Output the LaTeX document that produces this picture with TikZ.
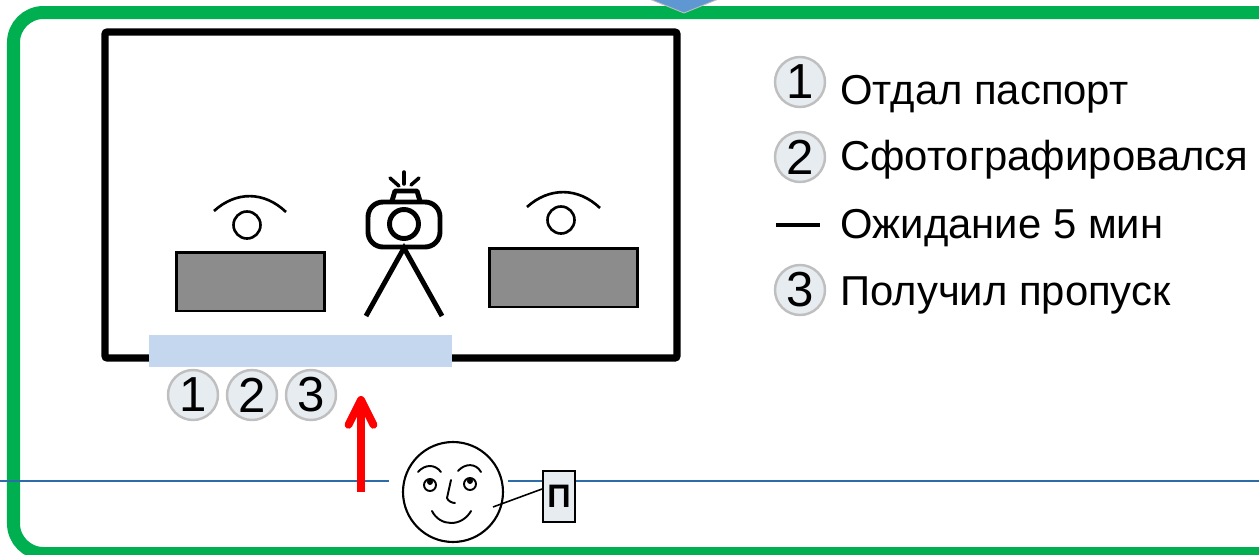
\documentclass[tikz,border=0pt]{standalone}
\usepackage{fontspec}
\setmainfont{Liberation Sans}
\usetikzlibrary{arrows.meta}
\definecolor{framegreen}{HTML}{00B050}
\definecolor{badgefill}{HTML}{E7ECF1}
\definecolor{badgeline}{HTML}{BFBFBF}
\definecolor{deskgray}{HTML}{8C8C8C}
\definecolor{windowblue}{HTML}{C5D7EE}
\definecolor{roadblue}{HTML}{2E6CA8}
\definecolor{pointerblue}{HTML}{5F97D3}
\begin{document}
\begin{tikzpicture}[x=0.02cm,y=-0.02cm,
        numbadge/.style={circle,draw=badgeline,fill=badgefill,line width=1.4pt,minimum size=1.0cm,inner sep=0pt,font=\fontsize{28}{28}\selectfont},
        legendtext/.style={anchor=base west,inner sep=0pt,font=\fontsize{23.8}{23.8}\selectfont},
        desk/.style={draw=black,fill=deskgray,line width=1.7pt},
        eyelid/.style={line width=1.5pt},
        campart/.style={line width=2.8pt,line cap=round},
        facepart/.style={line width=1.1pt,line cap=round}]
        \useasboundingbox (0,0) rectangle (1259,555);
        \clip (0,0) rectangle (1259,555);
        % outer frame
        \draw[framegreen,line width=7.4pt,rounded corners=0.6cm] (13.5,12.5) rectangle (1300,553.5);
        \draw[draw=badgeline,fill=pointerblue,line width=0.5pt] (647,-2) -- (721,-2) -- (684,13) -- cycle;
        % room
        \draw[line width=4pt,rounded corners=0.04cm] (105,32) rectangle (677,358);
        \node[draw=none,fill=windowblue,minimum width=6.06cm,minimum height=0.64cm,inner sep=0pt] (window) at (300.5,351) {};
        % desks
        \node[desk,minimum width=2.98cm,minimum height=1.18cm,inner sep=0pt] (deskleft) at (250.5,281.5) {};
        \node[desk,minimum width=2.98cm,minimum height=1.18cm,inner sep=0pt] (deskright) at (563.5,277.5) {};
        \draw[eyelid] (214,211) .. controls (236,191) and (264,191) .. (286,212);
        \node[circle,draw,line width=1.5pt,minimum size=0.54cm,inner sep=0pt] (eyeleft) at (247,225) {};
        \draw[eyelid] (527,207) .. controls (549,187) and (578,187) .. (600,208);
        \node[circle,draw,line width=1.5pt,minimum size=0.54cm,inner sep=0pt] (eyeright) at (561,220) {};
        % camera
        \draw[campart,rounded corners=0.3cm] (368,202) rectangle (440,247);
        \draw[campart,line join=round] (392,201) -- (395,191) -- (417,191) -- (420,201);
        \node[circle,draw,line width=2.8pt,minimum size=0.58cm,inner sep=0pt] (lens) at (404,224) {};
        \draw[line width=2pt,line cap=round] (404,172) -- (404,184);
        \draw[line width=2pt,line cap=round] (390,178) -- (399,186);
        \draw[line width=2pt,line cap=round] (419,178) -- (411,185);
        \coordinate (tripod) at (404,248);
        \draw[line width=2.8pt] (366,316) -- (tripod) -- (442,316);
        % numbers at the window
        \node[numbadge] (doneone) at (193,395) {1};
        \node[numbadge] (donetwo) at (252,395) {2};
        \node[numbadge] (donethree) at (311,395) {3};
        % road
        \coordinate (roadwest) at (0,481);
        \coordinate (roadeast) at (1259,481);
        \coordinate (roadgapa) at (389,481);
        \coordinate (roadgapb) at (508,481);
        \draw[roadblue,line width=0.8pt] (roadwest) -- (roadgapa);
        \draw[roadblue,line width=0.8pt] (roadgapb) -- (roadeast);
        \coordinate (walkstart) at (361,492);
        \coordinate (walkend) at (361,396);
        \draw[red,line width=4.4pt,-{Straight Barb[round,length=0.5cm,width=0.5cm]}] (walkstart) -- (walkend);
        % person
        \node[circle,draw,line width=1.2pt,minimum size=2cm,inner sep=0pt] (face) at (453,492) {};
        \node[circle,facepart,draw,minimum size=0.24cm,inner sep=0pt] (pupilleft) at (430,485) {};
        \node[circle,facepart,draw,minimum size=0.24cm,inner sep=0pt] (pupilright) at (470,484) {};
        \fill (430,482) circle[radius=3];
        \fill (470,481) circle[radius=3];
        \draw[facepart] (418,472) .. controls (425,464) and (435,464) .. (441,472);
        \draw[facepart] (458,471) .. controls (465,463) and (476,463) .. (481,472);
        \draw[facepart] (451,480) -- (447,498) .. controls (448,501) and (452,503) .. (455,503);
        \draw[facepart] (432,511) .. controls (440,527) and (462,527) .. (471,511);
        \node[draw,fill=badgefill,line width=1.1pt,minimum width=0.64cm,minimum height=1.02cm,inner sep=0pt,font=\bfseries\fontsize{18.5}{18.5}\selectfont] (pass) at (559,496.5) {П};
        \coordinate (facehand) at (493,507);
        \draw[line width=0.9pt] (facehand) -- (pass.west |- 0,489);
        % legend
        \node[numbadge] (stepone) at (800,82) {1};
        \node[numbadge] (steptwo) at (800,157) {2};
        \node[numbadge] (stepthree) at (800,290) {3};
        \coordinate (waitstart) at (776,225);
        \coordinate (waitend) at (820,225);
        \draw[line width=2.2pt] (waitstart) -- (waitend);
        \node[legendtext] (giventext) at (840,104) {Отдал паспорт};
        \node[legendtext] (phototext) at (840,170) {Сфотографировался};
        \node[legendtext] (waittext) at (840,238) {Ожидание 5 мин};
        \node[legendtext] (gottext) at (840,305) {Получил пропуск};
    \end{tikzpicture}
\end{document}
